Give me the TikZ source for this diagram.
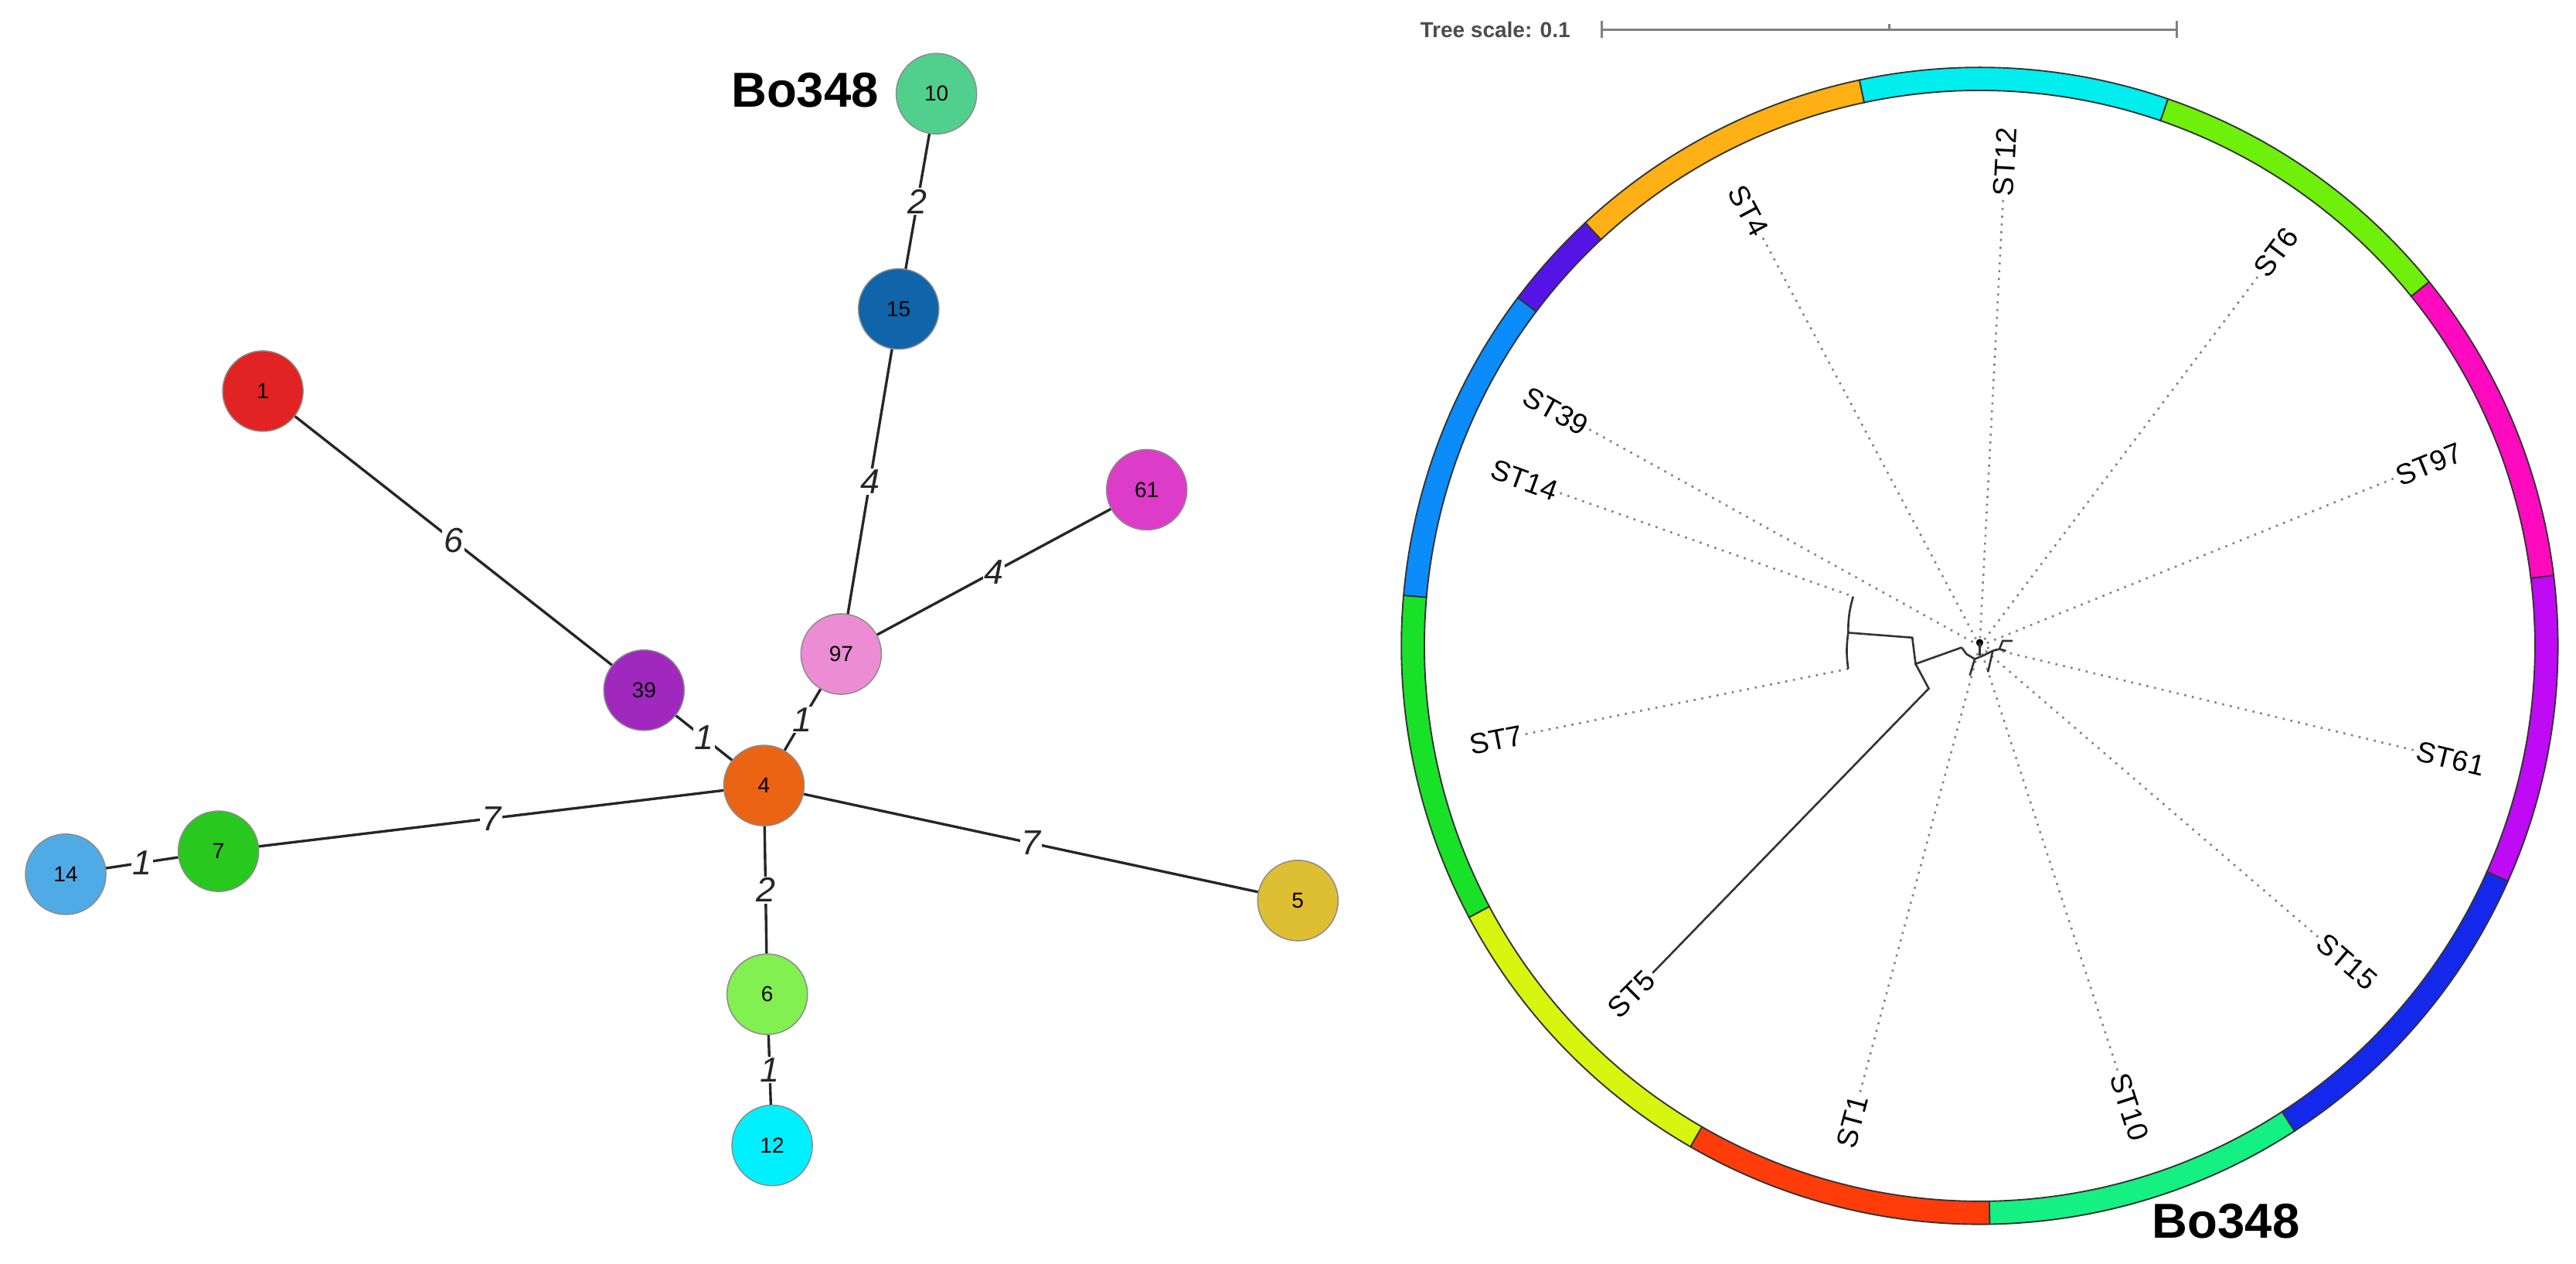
\documentclass[tikz,border=0pt]{standalone}
\usepackage{fontspec}
\setmainfont{Liberation Sans}
\begin{document}
\begin{tikzpicture}[x=0.02cm,y=-0.02cm,
  st/.style={circle,draw=black!45,line width=0.4pt,minimum size=0.98cm,inner sep=0pt,font=\fontsize{7.5}{8}\selectfont},
  edge/.style={line width=0.9pt,black!85},
  el/.style={font=\fontsize{12}{12}\selectfont\itshape,fill=white,inner sep=0.5pt},
  lf/.style={font=\fontsize{10}{10}\selectfont,inner sep=1pt},
  dl/.style={dotted,gray,line width=0.7pt},
  br/.style={line width=0.7pt,black!80}]
\useasboundingbox (0,0) rectangle (1568,769);
% ---------- network ----------
\definecolor{c10}{RGB}{80,208,140}\definecolor{c15}{RGB}{16,100,170}
\definecolor{c1}{RGB}{225,35,35}\definecolor{c61}{RGB}{220,60,200}
\definecolor{c97}{RGB}{236,140,212}\definecolor{c39}{RGB}{160,40,190}
\definecolor{c4}{RGB}{235,100,20}\definecolor{c14}{RGB}{80,170,230}
\definecolor{c7}{RGB}{40,200,30}\definecolor{c5}{RGB}{222,190,50}
\definecolor{c6}{RGB}{130,240,80}\definecolor{c12}{RGB}{0,240,255}
\node[st,fill=c10] (n10) at (570,57) {10};
\node[st,fill=c15] (n15) at (547,188) {15};
\node[st,fill=c1] (n1) at (160,238) {1};
\node[st,fill=c61] (n61) at (698,298) {61};
\node[st,fill=c97] (n97) at (512,398) {97};
\node[st,fill=c39] (n39) at (392,420) {39};
\node[st,fill=c4] (n4) at (465,478) {4};
\node[st,fill=c14] (n14) at (40,532) {14};
\node[st,fill=c7] (n7) at (133,518) {7};
\node[st,fill=c5] (n5) at (790,548) {5};
\node[st,fill=c6] (n6) at (467,605) {6};
\node[st,fill=c12] (n12) at (470,697) {12};
\draw[edge] (n10) -- node[el]{2} (n15);
\draw[edge] (n15) -- node[el]{4} (n97);
\draw[edge] (n1) -- node[el]{6} (n39);
\draw[edge] (n97) -- node[el]{4} (n61);
\draw[edge] (n97) -- node[el]{1} (n4);
\draw[edge] (n39) -- node[el]{1} (n4);
\draw[edge] (n4) -- node[el]{7} (n7);
\draw[edge] (n7) -- node[el]{1} (n14);
\draw[edge] (n4) -- node[el]{7} (n5);
\draw[edge] (n4) -- node[el]{2} (n6);
\draw[edge] (n6) -- node[el]{1} (n12);
\node[font=\fontsize{17}{17}\selectfont\bfseries] (bo1) at (490,55) {Bo348};
% ---------- scale bar ----------
\node[font=\fontsize{7.5}{8}\selectfont\bfseries,text=black!70,anchor=east] (ts) at (962,18) {Tree scale: 0.1};
\coordinate (s0) at (975,18); \coordinate (s1) at (1325,18); \coordinate (sm) at (1150,18);
\draw[gray,line width=0.8pt] (s0) -- (s1);
\draw[gray,line width=0.8pt] ([yshift=-3pt]s0) -- ([yshift=3pt]s0);
\draw[gray,line width=0.8pt] ([yshift=-3pt]s1) -- ([yshift=3pt]s1);
\draw[gray,line width=0.6pt] (sm) -- ([yshift=2pt]sm);
\node[font=\fontsize{17}{17}\selectfont\bfseries] (bo2) at (1355,743) {Bo348};
% ---------- circular tree ----------
\begin{scope}[shift={(1205,393)},x=0.02cm,y=0.02cm]
\coordinate (O) at (0,0);
\foreach \a/\b/\c in {102/133/{255,176,20},133/143/{85,20,230},143/175/{10,140,250},175/208/{25,225,40},
  208/240/{215,245,15},240/271/{255,60,10},271/303/{20,240,130},303/336/{20,40,235},
  336/367/{190,10,245},7/39/{255,10,190},39/71/{110,240,10},71/102/{0,238,238}}{
  \definecolor{seg}{RGB}{\c}
  \filldraw[fill=seg,draw=black!80,line width=0.5pt] (\a:352) arc (\a:\b:352) -- (\b:338) arc (\b:\a:338) -- cycle;}
% labels right side
\foreach \n/\a in {ST12/87,ST6/53,ST97/22,ST61/-13.5,ST15/-40.7,ST10/-72}{
  \node[lf,anchor=east,rotate=\a] (L\n) at (\a:318) {\n};
  \draw[dl] (O) -- (L\n.west);}
% left side
\foreach \n/\a in {ST4/118,ST39/151,ST1/255}{
  \node[lf,anchor=west,rotate=\a-180] (L\n) at (\a:318) {\n};
  \draw[dl] (O) -- (L\n.east);}
\node[lf,anchor=west,rotate=-20] (LST14) at (160:318) {ST14};
\node[lf,anchor=west,rotate=11] (LST7) at (191:318) {ST7};
\node[lf,anchor=west,rotate=45] (LST5) at (225:318) {ST5};
% branches
\coordinate (a1) at (-77,30); \coordinate (a2) at (-80,-14);
\coordinate (a3) at (-80,8); \coordinate (a4) at (-41,5);
\coordinate (a5) at (-39,-11); \coordinate (a6) at (-11,-1);
\coordinate (a7) at (-31,-26);
\draw[dl] (LST14.east) -- (a1);
\draw[dl] (LST7.east) -- (a2);
\draw[br] (a1) to[bend right=8] (a3) to[bend right=8] (a2);
\draw[br] (a3) -- (a4) -- (a5) -- (a6);
\draw[br] (a5) -- (a7) -- (LST5.east);
\draw[br] (a6) -- (-8,-5) -- (-3,-8) -- (2,-6) -- (8,-3) -- (12,-2) -- (16,-3);
\draw[br] (-3,-8) -- (-6,-18); \draw[br] (8,-3) -- (5,-16); \draw[br] (12,-2) -- (14,3) -- (20,3);
\fill (0,2) circle (2.2);
\draw[br] (0,2) -- (0,-6);
\end{scope}
\end{tikzpicture}
\end{document}
